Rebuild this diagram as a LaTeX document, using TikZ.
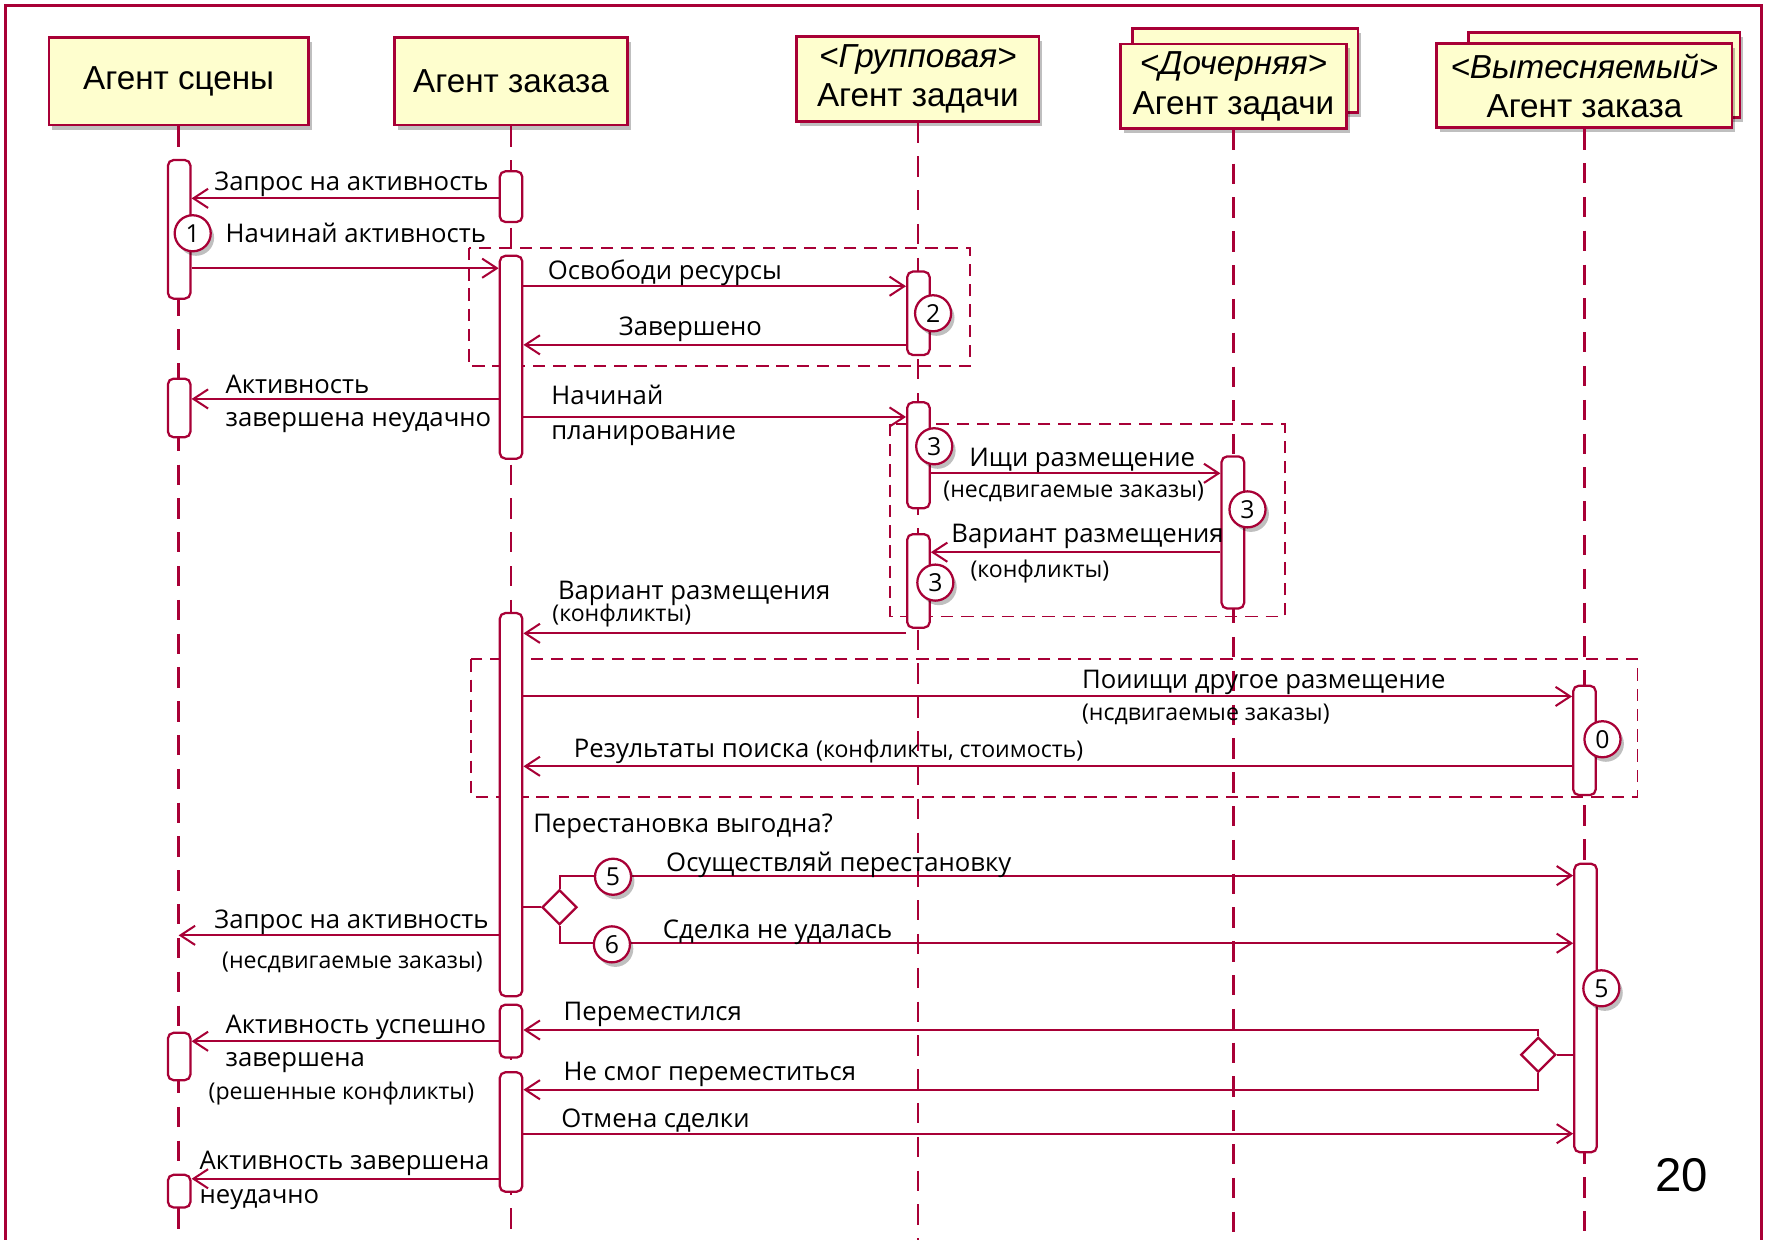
\documentclass[tikz,border=0pt]{standalone}
\usepackage{fontspec}
\setmainfont{Open Sans}
\newfontfamily\hdr{Liberation Sans}
\usetikzlibrary{arrows.meta,shapes.geometric,shadows}
\definecolor{pu}{HTML}{A80036}
\definecolor{pf}{HTML}{FEFECE}
\tikzset{
  shd/.style={drop shadow={shadow xshift=3pt,shadow yshift=-4pt,opacity=0.25,fill=black}},
  hbox/.style={draw=pu,fill=pf,line width=2.5pt,inner sep=0pt,align=center,
    font=\hdr\fontsize{29.5}{35}\selectfont},
  life/.style={draw=pu,line width=2pt,dash pattern=on 18pt off 12pt},
  act/.style={draw=pu,fill=white,line width=2pt,rounded corners=5pt,minimum width=20pt,inner sep=0pt},
  num/.style={circle,draw=pu,fill=white,line width=2pt,minimum size=32pt,inner sep=0pt,
    font=\fontsize{22}{22}\selectfont,shd},
  msg/.style={draw=pu,line width=1.8pt,-{Straight Barb[length=13pt,width=17pt,line width=1.8pt]}},
  ln/.style={draw=pu,line width=1.8pt},
  frm/.style={draw=pu,line width=1.6pt,dash pattern=on 11pt off 7pt},
  lbl/.style={anchor=west,inner sep=0pt,font=\fontsize{22.8}{27}\selectfont,text height=20pt,text depth=4.5pt},
  sml/.style={anchor=west,inner sep=0pt,font=\fontsize{20.5}{24}\selectfont,text height=18pt,text depth=4.5pt},
  dia/.style={diamond,draw=pu,fill=white,line width=2pt,minimum width=31pt,minimum height=31pt,inner sep=0pt,aspect=1}
}
\begin{document}
\begin{tikzpicture}[x=1pt,y=-1pt]
\useasboundingbox (0,0) rectangle (1568,1100);
\clip (0,0) rectangle (1568,1100);
\fill[white] (0,0) rectangle (1568,1100);
% outer frame
\draw[pu,line width=3pt] (5,5) rectangle (1563,1120);

% headers
\node[hbox,shd,minimum width=230pt,minimum height=78pt] (hs) at (158.5,72) {Агент сцены};
\node[hbox,shd,minimum width=207pt,minimum height=78pt] (ho) at (453.5,72) {Агент заказа};
\node[hbox,shd,minimum width=215pt,minimum height=75pt] (hg) at (814.5,70) {\textit{<Групповая>}\\Агент задачи};
\node[hbox,shd,minimum width=200pt,minimum height=75pt] (hcb) at (1105,62.5) {};
\node[hbox,shd,minimum width=201pt,minimum height=75pt] (hc) at (1094.5,76.5) {\textit{<Дочерняя>}\\Агент задачи};
\node[hbox,shd,minimum width=241pt,minimum height=75pt] (hvb) at (1423.5,66.5) {};
\node[hbox,shd,minimum width=262pt,minimum height=75pt] (hv) at (1406,76) {\textit{<Вытесняемый>}\\Агент заказа};

% lifelines
\draw[life] (hs.south) -- (hs.south |- 0,1110);
\draw[life] (ho.south) -- (ho.south |- 0,1110);
\draw[life] (hg.south) -- (hg.south |- 0,1110);
\draw[life] (hc.south) -- (hc.south |- 0,1110);
\draw[life] (hv.south) -- (hv.south |- 0,1110);

% dashed frames
\draw[frm] (416,220) rectangle (861,325);
\draw[frm] (790,376) rectangle (1140,547);
\draw[frm] (418,585) rectangle (1453,707);

% activations
\node[act,minimum height=123pt] (s1) at (159,203.5) {};
\node[act,minimum height=52pt] (s2) at (159,362) {};
\node[act,minimum height=42pt] (s3) at (159,937.5) {};
\node[act,minimum height=29pt] (s4) at (159,1057) {};
\node[act,minimum height=45pt] (o1) at (453.5,174.5) {};
\node[act,minimum height=180pt] (o2) at (453.5,317) {};
\node[act,minimum height=340pt] (o3) at (453.5,714) {};
\node[act,minimum height=47pt] (o4) at (453.5,915) {};
\node[act,minimum height=106pt] (o5) at (453.5,1004.5) {};
\node[act,minimum height=74pt] (g1) at (815,278) {};
\node[act,minimum height=94pt] (g2) at (815,404) {};
\node[act,minimum height=83pt] (g3) at (815,515.5) {};
\node[act,minimum height=135pt] (ch1) at (1094,472.5) {};
\node[act,minimum height=97pt] (v1) at (1406,657) {};
\node[act,minimum height=256pt] (v2) at (1407,894.5) {};

% messages
\draw[msg] (o1.west |- 0,176) -- (s1.east |- 0,176);
\node[lbl] (t1) at (190,161) {Запрос на активность};
\draw[msg] (s1.east |- 0,238) -- (o2.west |- 0,238);
\node[lbl] (t2) at (200,207) {Начинай активность};
\draw[msg] (o2.east |- 0,254) -- (g1.west |- 0,254);
\node[lbl] (t3) at (486,240) {Освободи ресурсы};
\draw[msg] (g1.west |- 0,306) -- (o2.east |- 0,306);
\node[lbl] (t4) at (549,290) {Завершено};
\draw[msg] (o2.west |- 0,354) -- (s2.east |- 0,354);
\node[lbl] (t5a) at (200,341) {Активность};
\node[lbl] (t5b) at (200,371) {завершена неудачно};
\draw[msg] (o2.east |- 0,370) -- (g2.west |- 0,370);
\node[lbl] (t6a) at (489,351) {Начинай};
\node[lbl] (t6b) at (489,382) {планирование};
\draw[msg] (g2.east |- 0,420) -- (ch1.west |- 0,420);
\node[lbl] (t7a) at (860,406) {Ищи размещение};
\node[sml] (t7b) at (837,435) {(несдвигаемые заказы)};
\draw[msg] (ch1.west |- 0,490) -- (g3.east |- 0,490);
\node[lbl] (t8a) at (844,474) {Вариант размещения};
\node[sml] (t8b) at (861,506) {(конфликты)};
\draw[msg] (g3.west |- 0,562) -- (o3.east |- 0,562);
\node[lbl] (t9a) at (495,524) {Вариант размещения};
\node[sml] (t9b) at (490,545) {(конфликты)};
\draw[msg] (o3.east |- 0,618) -- (v1.west |- 0,618);
\node[lbl] (t10a) at (960,603) {Поиищи другое размещение};
\node[sml] (t10b) at (960,633) {(нсдвигаемые заказы)};
\draw[msg] (v1.west |- 0,680) -- (o3.east |- 0,680);
\node[lbl] (t11) at (509,664) {Результаты поиска {\fontsize{20.5}{24}\selectfont(конфликты, стоимость)}};
\node[lbl] (t12) at (473,731) {Перестановка выгодна?};

% decision at order agent
\node[dia] (d1) at (496.5,805) {};
\draw[ln] (o3.east |- d1) -- (d1.west);
\draw[msg] (d1.north) |- (v2.west |- 0,777);
\draw[msg] (d1.south) |- (v2.west |- 0,837);
\node[lbl] (t13) at (591,766) {Осуществляй перестановку};
\node[lbl] (t14) at (588,825) {Сделка не удалась};

\draw[msg] (o3.west |- 0,830) -- (hs.south |- 0,830);
\node[lbl] (t15a) at (190,816) {Запрос на активность};
\node[sml] (t15b) at (197,853) {(несдвигаемые заказы)};

% decision at displaced order agent
\node[dia] (d2) at (1365,936) {};
\draw[ln] (v2.west |- d2) -- (d2.east);
\draw[msg] (d2.north) |- (o4.east |- 0,914);
\draw[msg] (d2.south) |- (o5.east |- 0,967);
\node[lbl] (t16) at (500,898) {Переместился};
\node[lbl] (t17) at (500,951) {Не смог переместиться};

\draw[msg] (o4.west |- 0,924) -- (s3.east |- 0,924);
\node[lbl] (t18a) at (200,909) {Активность успешно};
\node[lbl] (t18b) at (200,939) {завершена};
\node[sml] (t18c) at (185,969) {(решенные конфликты)};

\draw[msg] (o5.east |- 0,1006) -- (v2.west |- 0,1006);
\node[lbl] (t19) at (498,993) {Отмена сделки};

\draw[msg] (o5.west |- 0,1046) -- (s4.east |- 0,1046);
\node[lbl] (t20a) at (177,1030) {Активность завершена};
\node[lbl] (t20b) at (177,1060) {неудачно};

% numbered circles
\node[num] (c1) at (171,207) {1};
\node[num] (c2) at (828,278) {2};
\node[num] (c3) at (829,396) {3};
\node[num] (c4) at (1107,452) {3};
\node[num] (c5) at (830,517) {3};
\node[num] (c6) at (1422,656) {0};
\node[num] (c7) at (544,778) {5};
\node[num] (c8) at (543,838) {6};
\node[num] (c9) at (1421,877) {5};

% page number
\node[font=\hdr\fontsize{42}{46}\selectfont,inner sep=0pt] (pg) at (1492,1043) {20};
\end{tikzpicture}
\end{document}
